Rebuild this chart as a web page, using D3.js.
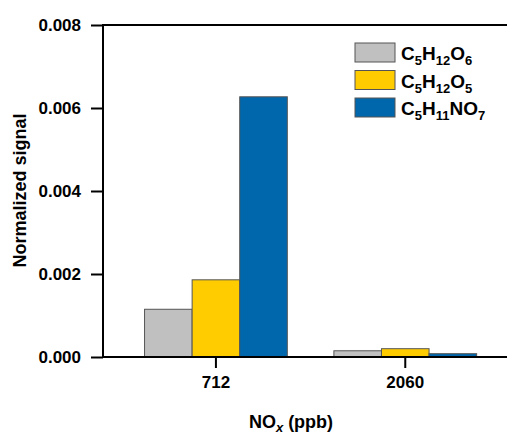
<!DOCTYPE html>
<html>
<head>
<meta charset="utf-8">
<script src="https://cdn.jsdelivr.net/npm/d3@7"></script>
<style>
  html, body { margin: 0; padding: 0; background: #fff; }
  svg { display: block; font-family: "Liberation Sans", Arial, sans-serif; font-weight: bold; }
</style>
</head>
<body>
<svg id="chart" width="507" height="434"></svg>
<script>
// NOx levels on the x axis
const categories = ["712", "2060"];
// Species in each group; label parts are [text, isSubscript]
const seriesNames = ["C5H12O6", "C5H12O5", "C5H11NO7"];
const seriesLabels = [
  [["C", 0], ["5", 1], ["H", 0], ["12", 1], ["O", 0], ["6", 1]],
  [["C", 0], ["5", 1], ["H", 0], ["12", 1], ["O", 0], ["5", 1]],
  [["C", 0], ["5", 1], ["H", 0], ["11", 1], ["N", 0], ["O", 0], ["7", 1]]
];
const seriesColors = ["#c0c0c0", "#ffcc00", "#0067ac"];
// Normalized signal per species at each NOx level
const valuesC5H12O6 = [0.00115, 0.00015];
const valuesC5H12O5 = [0.00186, 0.00020];
const valuesC5H11NO7 = [0.00627, 0.00008];
const seriesValues = [valuesC5H12O6, valuesC5H12O5, valuesC5H11NO7];
const yTicks = [0, 0.002, 0.004, 0.006, 0.008];

const svg = d3.select("#chart");
const plotLeft = 103, plotTop = 25, plotBottom = 357, plotRight = 515;

const x = d3.scaleBand()
  .domain(categories)
  .range([plotLeft, plotRight])
  .paddingInner(0.246)
  .paddingOuter(0.211)
  .align(0.52);

const xSub = d3.scaleBand()
  .domain(seriesNames)
  .range([0, x.bandwidth()]);

const y = d3.scaleLinear().domain([0, 0.008]).range([plotBottom, plotTop]);

// bars
const rows = categories.map((c, i) => ({
  cat: c,
  vals: seriesNames.map((s, j) => ({ key: s, color: seriesColors[j], value: seriesValues[j][i] }))
}));

svg.append("g")
  .selectAll("g")
  .data(rows)
  .join("g")
  .attr("transform", d => `translate(${x(d.cat)},0)`)
  .selectAll("rect")
  .data(d => d.vals)
  .join("rect")
  .attr("x", d => xSub(d.key))
  .attr("width", xSub.bandwidth())
  .attr("y", d => y(d.value))
  .attr("height", d => y(0) - y(d.value))
  .attr("fill", d => d.color)
  .attr("stroke", "#555")
  .attr("stroke-width", 1);

// frame: top line runs off to the right
svg.append("line")
  .attr("x1", plotLeft).attr("x2", plotRight)
  .attr("y1", plotTop).attr("y2", plotTop)
  .attr("stroke", "#000").attr("stroke-width", 2);

// y axis
const yAxis = d3.axisLeft(y)
  .tickValues(yTicks)
  .tickFormat(d3.format(".3f"))
  .tickSize(12)
  .tickSizeOuter(0)
  .tickPadding(10);
const gy = svg.append("g").attr("transform", `translate(${plotLeft},0)`).call(yAxis);
gy.select(".domain").attr("stroke-width", 2).attr("d", `M0,${plotBottom + 1}V${plotTop - 1}`);
gy.selectAll(".tick line").attr("stroke-width", 2);
gy.selectAll(".tick text")
  .attr("font-size", 17).attr("font-weight", "bold")
  .attr("font-family", "Liberation Sans, Arial, sans-serif").attr("fill", "#000");

// x axis
const xAxis = d3.axisBottom(x).tickSize(11).tickSizeOuter(0).tickPadding(8);
const gx = svg.append("g").attr("transform", `translate(0,${plotBottom})`).call(xAxis);
gx.select(".domain").attr("stroke-width", 2).attr("d", `M${plotLeft - 1},0H${plotRight}`);
gx.selectAll(".tick line").attr("stroke-width", 2);
gx.selectAll(".tick text")
  .attr("font-size", 17).attr("font-weight", "bold")
  .attr("font-family", "Liberation Sans, Arial, sans-serif").attr("fill", "#000");

// axis titles
svg.append("text")
  .attr("transform", `translate(26,${(113 + 268) / 2}) rotate(-90)`)
  .attr("text-anchor", "middle")
  .attr("font-size", 18)
  .text("Normalized signal");

const xt = svg.append("text")
  .attr("x", 291).attr("y", 428)
  .attr("text-anchor", "middle")
  .attr("font-size", 18);
xt.append("tspan").text("NO");
xt.append("tspan").attr("font-style", "italic").attr("font-size", 13).attr("dy", 4).text("x");
xt.append("tspan").attr("dy", -4).text(" (ppb)");

// legend
const legend = svg.append("g").attr("transform", "translate(355,43)");
seriesNames.forEach((s, i) => {
  const g = legend.append("g").attr("transform", `translate(0,${i * 27.5})`);
  g.append("rect")
    .attr("width", 40).attr("height", 19)
    .attr("fill", seriesColors[i])
    .attr("stroke", "#555").attr("stroke-width", 1);
  const t = g.append("text").attr("x", 46).attr("y", 17).attr("font-size", 19);
  let shifted = false;
  seriesLabels[i].forEach(([txt, sub]) => {
    const sp = t.append("tspan").text(txt);
    if (sub && !shifted) { sp.attr("font-size", 13).attr("dy", 5); shifted = true; }
    else if (sub) { sp.attr("font-size", 13); }
    else if (!sub && shifted) { sp.attr("dy", -5); shifted = false; }
  });
});
</script>
</body>
</html>
